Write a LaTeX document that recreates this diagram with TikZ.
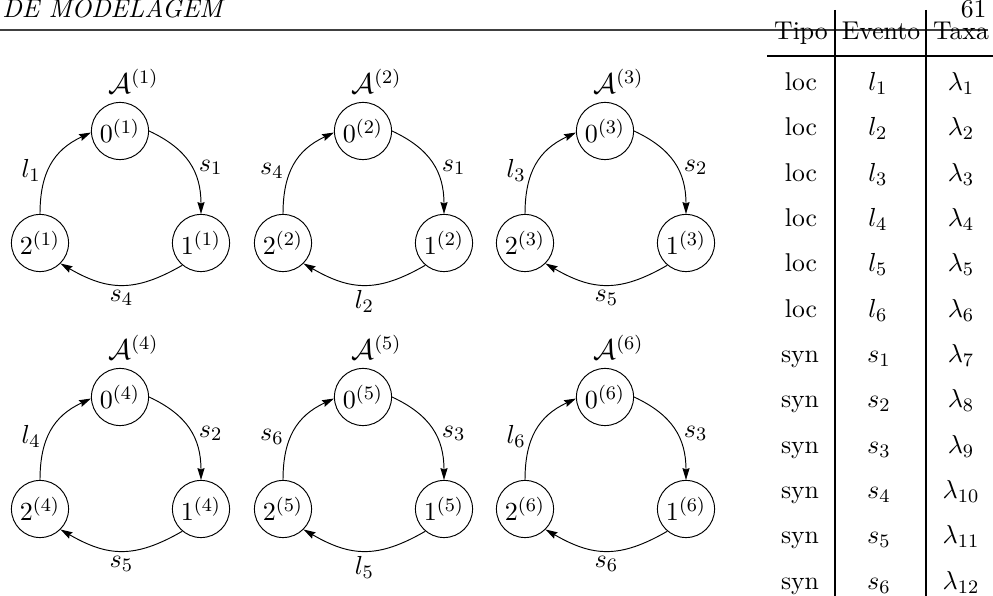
\documentclass[tikz,border=0pt]{standalone}
\usetikzlibrary{arrows.meta}
\begin{document}
\begin{tikzpicture}[x=0.42pt,y=-0.42pt,
  font=\fontsize{10.8}{13}\selectfont,
  state/.style={draw, circle, minimum size=24pt, inner sep=0pt, thin},
  edge/.style={thin, -{Stealth[length=5pt,width=3pt,inset=0.6pt]}},
  lab/.style={inner sep=2.8pt},
  blab/.style={inner sep=2pt},
  pagerule/.style={line width=0.45pt, black!75},
  tabrule/.style={line width=0.45pt, black},
  cell/.style={anchor=base, inner sep=0pt}]

\useasboundingbox (0,0) rectangle (993,596);

% page header
\node[anchor=base west, inner sep=0pt] (hdr) at (2,18) {\textit{DE MODELAGEM}};
\node[anchor=base east, inner sep=0pt] (pg) at (987,18) {61};
\draw[pagerule] (0,30) -- (988,30);

% table
\draw[tabrule] (835,10) -- (835,596);
\draw[tabrule] (926,10) -- (926,596);
\draw[tabrule] (767,56) -- (993,56);
\node[cell] (hTipo) at (801,40) {Tipo};
\node[cell] (hEvento) at (881,40) {Evento};
\node[cell] (hTaxa) at (961,40) {Taxa};
\foreach \k in {1,...,6}{
  \pgfmathsetmacro\ya{90.5+45.33*(\k-1)}
  \pgfmathsetmacro\yb{90.5+45.33*(\k+5)}
  \pgfmathtruncatemacro\m{\k+6}
  \node[cell] (tl\k) at (801,\ya) {loc};
  \node[cell] (el\k) at (878,\ya) {$l_{\k}$};
  \node[cell] (rl\k) at (961,\ya) {$\lambda_{\k}$};
  \node[cell] (ts\k) at (800,\yb) {syn};
  \node[cell] (es\k) at (879,\yb) {$s_{\k}$};
  \node[cell] (rs\k) at (961,\yb) {$\lambda_{\m}$};
}

% automata
\foreach \i/\cx/\cy/\la/\lb/\lc in {1/120/131/l_1/s_1/s_4, 2/363/131/s_4/s_1/l_2, 3/605/131/l_3/s_2/s_5, 4/120/397/l_4/s_2/s_5, 5/363/397/s_6/s_3/l_5, 6/605/397/l_6/s_3/s_6}{
  \node[state] (a\i-0) at (\cx,\cy) {$0^{(\i)}$};
  \node[state] (a\i-1) at (\cx+81,\cy+112) {$1^{(\i)}$};
  \node[state] (a\i-2) at (\cx-80,\cy+112) {$2^{(\i)}$};
  \node[anchor=base west, inner sep=0pt, font=\large] (t\i) at (\cx-12,\cy-37) {$\mathcal{A}^{(\i)}$};
  \draw[edge] (a\i-2.north) to[out=90,in=205,looseness=1.1] node[left,lab,pos=0.42] {$\la$} (a\i-0.183);
  \draw[edge] (a\i-0.east) to[out=-25,in=90,looseness=1.1] node[right,lab,pos=0.55] {$\lb$} (a\i-1.north);
  \draw[edge] (a\i-1.-130) to[out=-150,in=-30,looseness=1.15] node[below,blab] {$\lc$} (a\i-2.-45);
}
\end{tikzpicture}
\end{document}
